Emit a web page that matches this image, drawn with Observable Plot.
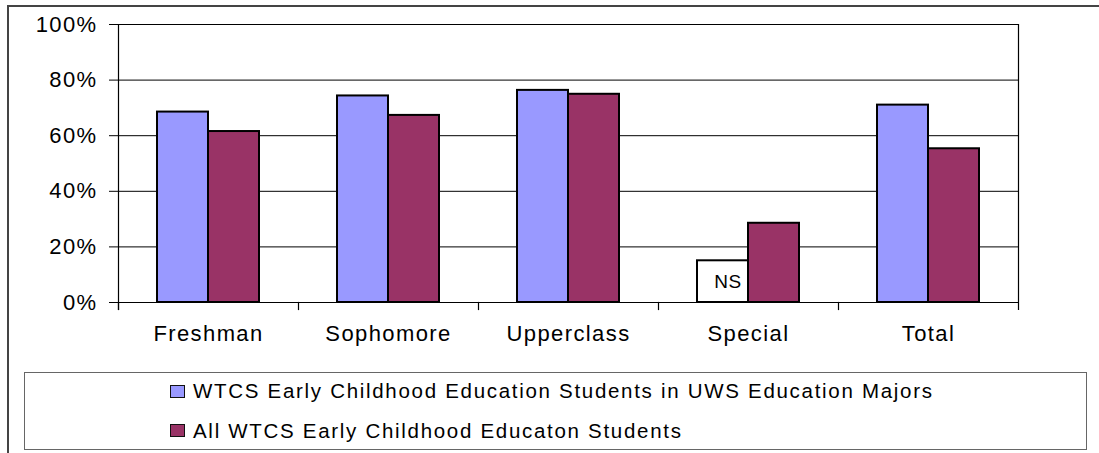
<!DOCTYPE html>
<html>
<head>
<meta charset="utf-8">
<script src="https://cdn.jsdelivr.net/npm/d3@7"></script>
<script src="https://cdn.jsdelivr.net/npm/@observablehq/plot@0.6"></script>
<style>
  html, body { margin: 0; padding: 0; background: #fff; }
  #wrap { position: relative; width: 1099px; height: 453px; overflow: hidden; font-family: "Liberation Sans", Arial, sans-serif; }
  #outer { position: absolute; left: 7px; top: 5px; width: 1200px; height: 600px; border-left: 2px solid #444; border-top: 2px solid #444; }
  #chart { position: absolute; left: 0; top: 0; }
  #chart svg text { letter-spacing: 1.4px; }
  #chart svg text.ns { letter-spacing: 0.5px; }
  #legend { position: absolute; left: 24px; top: 372px; width: 1063px; height: 78px; border: 1.5px solid #666; box-sizing: border-box; background: #fff; }
  .sw { position: absolute; left: 145px; width: 15px; height: 13px; border: 1.5px solid #111; box-sizing: border-box; }
  .lt { position: absolute; left: 168px; font-size: 20.5px; line-height: 20px; letter-spacing: 1.7px; color: #000; white-space: nowrap; }
</style>
</head>
<body>
<div id="wrap">
  <div id="outer"></div>
  <div id="chart"></div>
  <div id="legend"></div>
</div>
<script>
// ---- data ----
const categories = ["Freshman", "Sophomore", "Upperclass", "Special", "Total"];
const seriesNames = [
  "WTCS Early Childhood Education Students in UWS Education Majors",
  "All WTCS Early Childhood Educaton Students"
];
const wtcsInUws = [68.5, 74.3, 76.3, null, 71.0];   // Special: not shown (NS)
const allWtcs   = [61.5, 67.3, 74.9, 28.5, 55.3];
const nsCategory = "Special";
const nsBoxValue = 15;          // height of the "NS" placeholder box
const nsLabel = "NS";
const yTicks = [0, 20, 40, 60, 80, 100];
const seriesColors = ["#9999FF", "#993366"];

// ---- build table ----
const data = [];
categories.forEach((c, i) => {
  if (wtcsInUws[i] != null) data.push({cat: c, series: seriesNames[0], value: wtcsInUws[i]});
  if (allWtcs[i] != null) data.push({cat: c, series: seriesNames[1], value: allWtcs[i]});
});
const nsData = [{cat: nsCategory, series: seriesNames[0], value: nsBoxValue, label: nsLabel}];

const W = 1099, H = 360, mT = 24, mB = 58, mL = 117, mR = 81;
const innerH = H - mT - mB;

const chart = Plot.plot({
  width: W, height: H,
  marginLeft: mL, marginRight: mR, marginTop: mT, marginBottom: mB,
  style: {fontFamily: "'Liberation Sans', Arial, sans-serif", fontSize: "22px", color: "#000", background: "transparent"},
  fx: {domain: categories, padding: 0, label: null},
  x: {domain: seriesNames, paddingInner: 0, paddingOuter: 0.75, axis: null},
  y: {domain: [0, 100], axis: null, label: null},
  color: {domain: seriesNames, range: seriesColors},
  marks: [
    Plot.ruleY(yTicks.filter(d => d > 0), {stroke: "#000", strokeWidth: 1}),
    Plot.frame({anchor: "left", facetAnchor: "left", insetBottom: -7, stroke: "#000", strokeWidth: 1.2}),
    Plot.frame({anchor: "right", facetAnchor: "right", insetBottom: -7, stroke: "#000", strokeWidth: 1.2}),
    Plot.frame({anchor: "left", insetTop: innerH, insetBottom: -7, stroke: "#000", strokeWidth: 1.2}),
    Plot.barY(data, {fx: "cat", x: "series", y: "value", fill: "series", stroke: "#000", strokeWidth: 2}),
    Plot.barY(nsData, {fx: "cat", x: "series", y: "value", fill: "#fff", stroke: "#000", strokeWidth: 2}),
    Plot.text(nsData, {fx: "cat", x: "series", y: d => d.value / 2, text: "label", dx: 5, fontSize: 19, fill: "#000"}),
    Plot.ruleY([0], {stroke: "#000", strokeWidth: 1.2}),
    Plot.axisY({ticks: yTicks, tickSize: 9, tickPadding: 12, tickFormat: d => d + "%", fontSize: 22, stroke: "#000", label: null}),
    Plot.axisFx({anchor: "bottom", tickSize: 0, tickPadding: 23, fontSize: 22, label: null})
  ]
});
chart.querySelectorAll("g[aria-label='text'] text").forEach(t => t.classList.add("ns"));
document.getElementById("chart").appendChild(chart);

// ---- legend ----
const legend = document.getElementById("legend");
const swatchTops = [12, 51];
const textTops = [8, 48];
seriesNames.forEach((s, i) => {
  const sw = document.createElement("div");
  sw.className = "sw";
  sw.style.top = swatchTops[i] + "px";
  sw.style.background = seriesColors[i];
  legend.appendChild(sw);
  const t = document.createElement("div");
  t.className = "lt";
  t.style.top = textTops[i] + "px";
  t.textContent = s;
  legend.appendChild(t);
});
</script>
</body>
</html>
